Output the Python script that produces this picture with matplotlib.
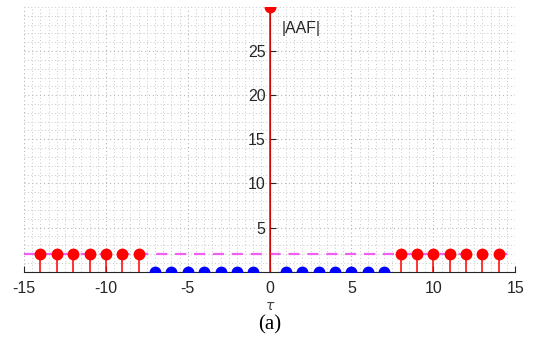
"""
Stem plot of the aperiodic autocorrelation magnitude |AAF| against lag tau.
"""

import matplotlib
matplotlib.use('Agg')
import matplotlib.pyplot as plt
from matplotlib.ticker import MultipleLocator


# Side lobes above the threshold, plus the main peak at tau = 0.
HIGH_TAUS = [-14, -13, -12, -11, -10, -9, -8, 0, 8, 9, 10, 11, 12, 13, 14]
HIGH_VALUES = [2, 2, 2, 2, 2, 2, 2, 30, 2, 2, 2, 2, 2, 2, 2]

# Zero side lobes.
ZERO_TAUS = [-7, -6, -5, -4, -3, -2, -1, 1, 2, 3, 4, 5, 6, 7]
ZERO_VALUES = [0, 0, 0, 0, 0, 0, 0, 0, 0, 0, 0, 0, 0, 0]

THRESHOLD = 2

X_TICKS = [-15, -10, -5, 0, 5, 10, 15]
Y_TICKS = [5, 10, 15, 20, 25]

AXIS_COLOR = '#262626'


def main():

    plt.rcParams['axes.unicode_minus'] = False

    fig = plt.figure(figsize=(5.35, 3.5), dpi=100)
    axes = fig.add_axes([0.045, 0.224, 0.918, 0.756])

    axes.plot([-15, 15], [THRESHOLD, THRESHOLD], color='#f060f0',
              linewidth=1.6, linestyle=(0, (5, 3.5)), zorder=2)

    lines, stems, base = axes.stem(HIGH_TAUS, HIGH_VALUES, basefmt=' ')
    plt.setp(lines, color='red', markersize=7.5, zorder=4)
    plt.setp(stems, color='red', linewidth=1.1, zorder=3)

    lines, stems, base = axes.stem(ZERO_TAUS, ZERO_VALUES, basefmt=' ')
    plt.setp(lines, color='blue', markersize=7.5, zorder=4)
    plt.setp(stems, color='blue', linewidth=1.1, zorder=3)

    axes.set_xlim(-15, 15)
    axes.set_ylim(0, 30)

    # Axes cross at the origin, as in MATLAB's "origin" mode.
    axes.spines['left'].set_position(('data', 0))
    axes.spines['bottom'].set_position(('data', 0))
    axes.spines['top'].set_visible(False)
    axes.spines['right'].set_visible(False)
    for name in ('left', 'bottom'):
        axes.spines[name].set_color(AXIS_COLOR)
        axes.spines[name].set_linewidth(0.8)
    axes.spines['left'].set_zorder(1)

    axes.set_xticks(X_TICKS)
    axes.set_yticks(Y_TICKS)
    axes.xaxis.set_minor_locator(MultipleLocator(0.5))
    axes.yaxis.set_minor_locator(MultipleLocator(1))
    axes.tick_params(which='major', direction='in', length=4,
                     color=AXIS_COLOR, labelcolor=AXIS_COLOR,
                     labelsize=11.5, labelfontfamily='Liberation Sans')
    axes.tick_params(which='minor', length=0)
    axes.tick_params(axis='x', pad=7)
    axes.tick_params(axis='y', pad=3)

    axes.grid(which='major', color='#b8b8b8', linestyle=(0, (1, 2.5)),
              linewidth=0.8)
    axes.grid(which='minor', color='#c8c8c8', linestyle=(0, (1, 2.5)),
              linewidth=0.7)
    axes.set_axisbelow(True)

    axes.text(0.75, 27.6, '|AAF|', fontsize=11.5, family='Liberation Sans',
              color=AXIS_COLOR, va='center', ha='left')

    fig.text(270, 350 - 306, r'$\tau$', transform=None, fontsize=10,
             color='#404040', ha='center', va='center')
    fig.text(270, 350 - 325, '(a)', transform=None, fontsize=15,
             family='Liberation Serif', color='black',
             ha='center', va='center')

    fig.savefig('out.png', dpi=100)
    plt.close(fig)


if __name__ == '__main__':
    main()
